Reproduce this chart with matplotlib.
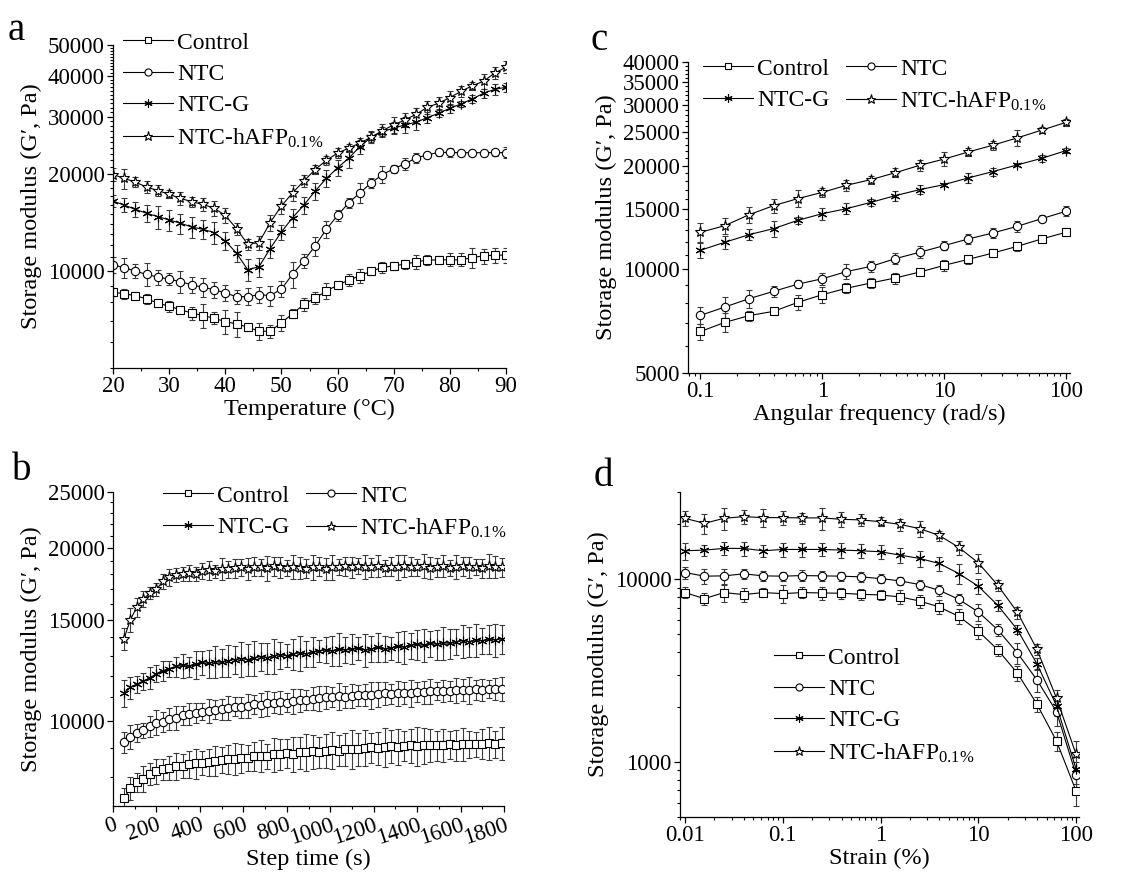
import matplotlib
matplotlib.use("Agg")
import matplotlib.pyplot as plt
from matplotlib.lines import Line2D
from matplotlib.ticker import FixedLocator, FuncFormatter, NullFormatter, LogLocator

plt.rcParams['font.family'] = ['Liberation Serif', 'DejaVu Serif']
plt.rcParams['mathtext.fontset'] = 'custom'
plt.rcParams['mathtext.rm'] = 'Liberation Serif'
plt.rcParams['mathtext.it'] = 'Liberation Serif:italic'

LABELS = ["Control", "NTC", "NTC-G", r"NTC-hAFP$_{\mathrm{0.1\%}}$"]
MARKERS = ["s", "o", (6, 2, 0), "*"]
SIZES = [5.5, 6, 7, 8]
YLABEL = "Storage modulus (G\u2032, Pa)"

# a: temperature sweep
temp = [20, 22, 24, 26, 28, 30, 32, 34, 36, 38, 40, 42, 44, 46, 48, 50, 52, 54,
        56, 58, 60, 62, 64, 66, 68, 70, 72, 74, 76, 78, 80, 82, 84, 86, 88, 90]
a_ctrl = [8580, 8490, 8375, 8180, 7950, 7760, 7580, 7400, 7265, 7130, 6960, 6850,
          6690, 6500, 6500, 6900, 7370, 7870, 8235, 8655, 9030, 9360, 9650, 9975,
          10240, 10360, 10480, 10660, 10790, 10810, 10810, 10810, 10990, 11120, 11180, 11180]
a_ntc = [10430, 10220, 9975, 9740, 9560, 9425, 9250, 9055, 8885, 8740, 8535, 8315,
         8315, 8435, 8375, 8780, 9765, 10735, 11940, 13440, 14840, 16240, 17440, 18720,
         19860, 20680, 21460, 22330, 22870, 23240, 23240, 23200, 23200, 23200, 23240, 23200]
a_g = [16430, 15970, 15490, 15060, 14710, 14370, 14040, 13670, 13440, 13130, 12370, 11340,
       10070, 10290, 11720, 13190, 14610, 15970, 17650, 19320, 20830, 22330, 24250, 25920,
       26980, 27630, 28290, 28840, 29800, 30740, 31850, 32850, 34040, 35440, 36450, 37000]
a_h = [19860, 19320, 18810, 18150, 17720, 17240, 16760, 16370, 16060, 15620, 14840, 13500,
       12080, 12230, 14100, 15870, 17440, 18950, 20570, 21980, 23130, 23980, 24870, 25920,
       27170, 28290, 29310, 30520, 32080, 33010, 34380, 35920, 37400, 38600, 40970, 42660]
a_ctrl_err = [250, 300, 200, 300, 250, 300, 150, 350, 600, 300, 600, 600, 200, 400, 300, 400, 250, 350,
              350, 500, 200, 400, 500, 250, 400, 300, 350, 500, 400, 300, 500, 500, 800, 600, 600, 600]
a_ntc_err = [600, 700, 500, 800, 500, 400, 700, 500, 600, 500, 500, 400, 500, 500, 600, 500, 900, 500,
             800, 800, 600, 600, 1200, 700, 1200, 600, 900, 800, 500, 500, 800, 500, 500, 500, 500, 900]
a_g_err = [700, 800, 800, 900, 1200, 1100, 1000, 1000, 900, 1000, 800, 700, 800, 700, 800, 700, 900, 1000,
           1100, 1200, 1200, 1500, 1200, 900, 900, 1200, 1600, 1500, 1200, 900, 1000, 800, 1000, 1100, 1400, 1200]
a_h_err = [900, 1400, 700, 800, 700, 500, 800, 600, 700, 800, 800, 600, 500, 600, 800, 900, 1000, 800,
           700, 700, 800, 700, 900, 1100, 1200, 1600, 1500, 1500, 1400, 1500, 1700, 1400, 1000, 2000, 1800, 1800]

# b: time sweep
step_time = [50, 80, 110, 140, 170, 200, 230, 260, 290, 320, 350, 380, 410, 440, 470, 500, 530, 560,
             590, 620, 650, 680, 710, 740, 770, 800, 830, 860, 890, 920, 950, 980, 1010, 1040, 1070,
             1100, 1130, 1160, 1190, 1220, 1250, 1280, 1310, 1340, 1370, 1400, 1430, 1460, 1490, 1520,
             1550, 1580, 1610, 1640, 1670, 1700, 1730, 1760, 1790]
b_ctrl = [7350, 7650, 7850, 7950, 8100, 8200, 8250, 8300, 8350, 8380, 8420, 8450, 8480, 8500, 8550,
          8580, 8600, 8620, 8650, 8640, 8700, 8720, 8700, 8760, 8780, 8800, 8780, 8830, 8850, 8870,
          8860, 8900, 8920, 8900, 8950, 8970, 8960, 9000, 9010, 9000, 9030, 9050, 9040, 9070, 9080,
          9060, 9090, 9100, 9090, 9110, 9120, 9100, 9130, 9140, 9120, 9150, 9160, 9140, 9170]
b_ntc = [9200, 9400, 9550, 9650, 9800, 9950, 9980, 10100, 10150, 10250, 10300, 10350, 10400, 10420,
         10480, 10500, 10550, 10600, 10580, 10650, 10700, 10680, 10750, 10780, 10800, 10780, 10850,
         10880, 10900, 10950, 10980, 11000, 11020, 11050, 11030, 11080, 11100, 11120, 11100, 11150,
         11180, 11160, 11200, 11220, 11200, 11250, 11230, 11270, 11280, 11300, 11290, 11320, 11340,
         11330, 11360, 11350, 11380, 11370, 11400]
b_g = [11200, 11450, 11600, 11750, 11900, 12100, 12250, 12350, 12450, 12500, 12450, 12550, 12650,
       12600, 12700, 12650, 12750, 12800, 12850, 12800, 12900, 12950, 12900, 13000, 13050, 13000,
       13100, 13150, 13100, 13200, 13250, 13300, 13250, 13350, 13300, 13350, 13400, 13300, 13350,
       13450, 13350, 13400, 13500, 13450, 13550, 13600, 13550, 13650, 13600, 13700, 13650, 13750,
       13800, 13750, 13850, 13800, 13900, 13850, 13900]
b_h = [13900, 15000, 15800, 16300, 16700, 16950, 17500, 17800, 17950, 18000, 18100, 18050, 18250,
       18300, 18200, 18400, 18350, 18450, 18500, 18400, 18550, 18500, 18450, 18600, 18500, 18450,
       18550, 18450, 18400, 18500, 18550, 18400, 18500, 18550, 18600, 18500, 18600, 18550, 18500,
       18600, 18450, 18550, 18500, 18600, 18550, 18500, 18600, 18450, 18500, 18600, 18450, 18550,
       18600, 18500, 18550, 18450, 18600, 18550, 18500]
b_ctrl_err = [300, 350, 300, 400, 350, 400, 350, 400, 450, 400, 450, 500, 400, 450, 500, 450, 500, 550,
              500, 450, 500, 550, 450, 600, 550, 500, 600, 550, 650, 600, 550, 600, 650, 550, 600, 700,
              600, 650, 550, 600, 700, 600, 650, 550, 600, 700, 650, 600, 550, 600, 500, 550, 600, 500,
              450, 550, 600, 500, 600]
b_ntc_err = [400, 450, 350, 300, 400, 500, 400, 450, 500, 400, 450, 400, 350, 500, 400, 450, 500, 400,
             450, 500, 400, 500, 550, 450, 500, 400, 550, 500, 450, 500, 550, 500, 450, 600, 500, 550,
             450, 500, 600, 550, 500, 450, 550, 500, 600, 450, 500, 550, 400, 500, 450, 550, 500, 600,
             450, 500, 400, 500, 550]
b_g_err = [600, 500, 400, 400, 500, 400, 500, 400, 500, 600, 500, 700, 600, 700, 800, 700, 800, 700,
           900, 800, 900, 700, 800, 900, 700, 600, 800, 900, 700, 800, 600, 700, 800, 900, 700, 800,
           600, 900, 700, 800, 700, 600, 800, 900, 700, 800, 900, 700, 800, 900, 800, 700, 900, 800,
           900, 700, 800, 900, 800]
b_h_err = [600, 700, 600, 500, 400, 450, 500, 600, 500, 500, 600, 500, 600, 700, 500, 800, 600, 700,
           600, 800, 700, 600, 900, 700, 800, 600, 900, 800, 700, 900, 700, 800, 900, 600, 700, 800,
           600, 900, 700, 800, 600, 700, 900, 800, 700, 600, 900, 800, 700, 800, 600, 900, 700, 800,
           600, 700, 900, 800, 700]

# c: frequency sweep
freq = [0.1, 0.158, 0.251, 0.398, 0.631, 1, 1.58, 2.51, 3.98, 6.31, 10, 15.8, 25.1, 39.8, 63.1, 100]
c_ctrl = [6600, 7010, 7340, 7550, 8020, 8440, 8810, 9130, 9440, 9820, 10270, 10690, 11150, 11660, 12250, 12810]
c_ntc = [7350, 7770, 8220, 8630, 9060, 9390, 9850, 10200, 10740, 11210, 11720, 12250, 12750, 13330, 14030, 14740]
c_g = [11360, 11980, 12610, 13130, 13880, 14510, 15000, 15650, 16370, 17040, 17620, 18430, 19220, 20100, 21000, 22110]
c_h = [12810, 13390, 14410, 15310, 16050, 16730, 17540, 18220, 19080, 20050, 20900, 21920, 22930, 24080, 25350, 26710]
c_ctrl_err = [350, 450, 250, 150, 400, 450, 300, 300, 350, 200, 400, 300, 300, 350, 200, 350]
c_ntc_err = [400, 550, 500, 300, 250, 400, 500, 350, 400, 450, 350, 400, 400, 500, 350, 500]
c_g_err = [550, 500, 450, 700, 350, 600, 550, 400, 550, 500, 200, 600, 500, 200, 500, 400]
c_h_err = [800, 700, 800, 700, 900, 500, 600, 500, 600, 700, 1000, 600, 700, 1300, 500, 700]

# d: strain sweep
strain = [0.01, 0.0158, 0.0251, 0.0398, 0.0631, 0.1, 0.158, 0.251, 0.398, 0.631, 1,
          1.58, 2.51, 3.98, 6.31, 10, 15.8, 25.1, 39.8, 63.1, 100]
d_ctrl = [8450, 7830, 8450, 8240, 8450, 8340, 8450, 8410, 8380, 8270, 8200,
          8000, 7600, 7050, 6260, 5200, 4110, 3060, 2070, 1300, 693]
d_ntc = [10880, 10390, 10430, 10700, 10430, 10390, 10470, 10430, 10390, 10300, 10080,
         9790, 9350, 8700, 7760, 6620, 5290, 3950, 2810, 1880, 849]
d_g = [14310, 14430, 14740, 14740, 14310, 14550, 14550, 14550, 14430, 14310, 14130,
       13550, 12990, 12190, 10740, 9150, 7200, 5290, 3440, 2030, 912]
d_h = [21540, 20210, 21540, 22000, 21730, 21730, 21650, 21650, 21270, 21100, 20640,
       19960, 18900, 17370, 14930, 12290, 9270, 6590, 4130, 2230, 1100]
d_ctrl_err = [600, 600, 900, 700, 500, 900, 600, 700, 600, 600, 500, 700, 600, 600, 600, 500, 300, 300, 200, 150, 120]
d_ntc_err = [800, 1000, 1000, 700, 700, 600, 700, 600, 600, 600, 600, 500, 600, 600, 500, 700, 400, 500, 400, 300, 150]
d_g_err = [1500, 1000, 1200, 1300, 1000, 1300, 1300, 1200, 1300, 1300, 1300, 1300, 1300, 1100, 1300, 900, 500, 300, 250, 250, 150]
d_h_err = [2000, 2500, 3000, 2000, 2500, 2000, 1500, 3000, 2000, 1500, 1200, 1500, 1800, 1100, 1300, 1500, 600, 500, 300, 250, 200]

W, H = 1143, 875
TICK_FS = 16.5
LABEL_FS = 17.5
LEG_FS = 17


def fig_rect(left, top, right, bottom):
    return [left / W, 1 - bottom / H, (right - left) / W, (bottom - top) / H]


def style_axes(ax):
    ax.spines['top'].set_visible(False)
    ax.spines['right'].set_visible(False)
    for s in ('left', 'bottom'):
        ax.spines[s].set_linewidth(0.9)
    ax.tick_params(which='major', direction='out', length=4, width=0.9, labelsize=TICK_FS, pad=2)
    ax.tick_params(which='minor', direction='out', length=2.2, width=0.8)


def draw_series(ax, x, ys, errs, ms_scale=1.0):
    for y, e, m, s in zip(ys, errs, MARKERS, SIZES):
        ax.errorbar(x, y, yerr=e, fmt='-', color='k', lw=0.8, marker=m, ms=s * ms_scale,
                    mfc='white', mec='k', mew=0.8, ecolor='#3a3a3a', elinewidth=0.8,
                    capsize=2.5, capthick=0.8)


def add_legend(ax, fig, x, top, ncol):
    handles = [Line2D([], [], color='k', lw=0.8, marker=m, ms=s * 0.85, mfc='white', mec='k', mew=0.8)
               for m, s in zip(MARKERS, SIZES)]
    labels = list(LABELS)
    if ncol == 2:
        # row-wise order: Control | NTC, NTC-G | NTC-hAFP
        order = [0, 2, 1, 3]
        handles = [handles[i] for i in order]
        labels = [labels[i] for i in order]
    ax.legend(handles, labels, loc='upper left', bbox_to_anchor=(x / W, 1 - top / H),
              bbox_transform=fig.transFigure, ncol=ncol, frameon=False, fontsize=LEG_FS,
              handlelength=2.1, handletextpad=0.2, labelspacing=0.42, columnspacing=0.7,
              borderpad=0, borderaxespad=0, numpoints=1)


def log_y(ax, majors, minors, lims):
    ax.set_yscale('log')
    ax.set_ylim(*lims)
    ax.yaxis.set_major_locator(FixedLocator(majors))
    ax.yaxis.set_major_formatter(FuncFormatter(lambda v, _: f"{v:.0f}"))
    ax.yaxis.set_minor_locator(FixedLocator(minors))
    ax.yaxis.set_minor_formatter(NullFormatter())


fig = plt.figure(figsize=(W / 100, H / 100), dpi=100)

# panel a
ax_a = fig.add_axes(fig_rect(113, 45, 506, 368))
draw_series(ax_a, temp, [a_ctrl, a_ntc, a_g, a_h], [a_ctrl_err, a_ntc_err, a_g_err, a_h_err])
log_y(ax_a, [10000, 20000, 30000, 40000, 50000],
      [v for v in range(5000, 50001, 1000) if v % 10000], (5000, 50000))
ax_a.set_xlim(20, 90)
ax_a.set_xticks(range(20, 91, 10))
ax_a.set_xticks(range(25, 90, 10), minor=True)
ax_a.set_xlabel("Temperature (\u00b0C)", fontsize=LABEL_FS, labelpad=1)
ax_a.set_ylabel(YLABEL, fontsize=LABEL_FS)
style_axes(ax_a)
add_legend(ax_a, fig, 123, 32, 1)

# panel b
ax_b = fig.add_axes(fig_rect(113, 492, 504, 806))
draw_series(ax_b, step_time, [b_ctrl, b_ntc, b_g, b_h], [b_ctrl_err, b_ntc_err, b_g_err, b_h_err])
log_y(ax_b, [10000, 15000, 20000, 25000],
      [v for v in range(8000, 25001, 1000) if v % 5000], (7130, 25000))
ax_b.set_xlim(0, 1800)
ax_b.set_xticks(range(0, 1801, 200))
ax_b.set_xticks(range(100, 1800, 200), minor=True)
ax_b.set_xticklabels([str(v) for v in range(0, 1801, 200)], rotation=18, ha='right',
                     rotation_mode='anchor')
ax_b.set_xlabel("Step time (s)", fontsize=LABEL_FS, labelpad=0)
ax_b.set_ylabel(YLABEL, fontsize=LABEL_FS)
style_axes(ax_b)
add_legend(ax_b, fig, 163, 485, 2)

# panel c
ax_c = fig.add_axes(fig_rect(688, 62, 1070, 373))
draw_series(ax_c, freq, [c_ctrl, c_ntc, c_g, c_h], [c_ctrl_err, c_ntc_err, c_g_err, c_h_err])
ax_c.set_xscale('log')
ax_c.set_xlim(0.079, 108)
ax_c.set_xticks([0.1, 1, 10, 100])
ax_c.set_xticklabels(['0.1', '1', '10', '100'])
ax_c.xaxis.set_minor_locator(LogLocator(subs=range(2, 10)))
ax_c.xaxis.set_minor_formatter(NullFormatter())
log_y(ax_c, list(range(5000, 40001, 5000)),
      [v for v in range(5000, 40001, 1000) if v % 5000], (5000, 40000))
ax_c.set_xlabel("Angular frequency (rad/s)", fontsize=LABEL_FS, labelpad=1)
ax_c.set_ylabel(YLABEL, fontsize=LABEL_FS)
style_axes(ax_c)
add_legend(ax_c, fig, 703, 58, 2)

# panel d
ax_d = fig.add_axes(fig_rect(680, 492, 1079, 817))
draw_series(ax_d, strain, [d_ctrl, d_ntc, d_g, d_h], [d_ctrl_err, d_ntc_err, d_g_err, d_h_err])
ax_d.set_xscale('log')
ax_d.set_xlim(0.0089, 107)
ax_d.set_xticks([0.01, 0.1, 1, 10, 100])
ax_d.set_xticklabels(['0.01', '0.1', '1', '10', '100'])
ax_d.xaxis.set_minor_locator(LogLocator(subs=range(2, 10)))
ax_d.xaxis.set_minor_formatter(NullFormatter())
ax_d.set_yscale('log')
ax_d.set_ylim(500, 30000)
ax_d.set_yticks([1000, 10000])
ax_d.set_yticklabels(['1000', '10000'])
ax_d.yaxis.set_minor_locator(LogLocator(subs=range(2, 10)))
ax_d.yaxis.set_minor_formatter(NullFormatter())
ax_d.set_xlabel("Strain (%)", fontsize=LABEL_FS, labelpad=1)
ax_d.set_ylabel(YLABEL, fontsize=LABEL_FS)
style_axes(ax_d)
add_legend(ax_d, fig, 774, 647, 1)

# panel letters
for lab, x, y in [("a", 8, 40), ("b", 12, 480), ("c", 590, 50), ("d", 594, 486)]:
    fig.text(x / W, 1 - y / H, lab, fontsize=28, ha='left', va='baseline')

fig.savefig("out.png", dpi=100)
